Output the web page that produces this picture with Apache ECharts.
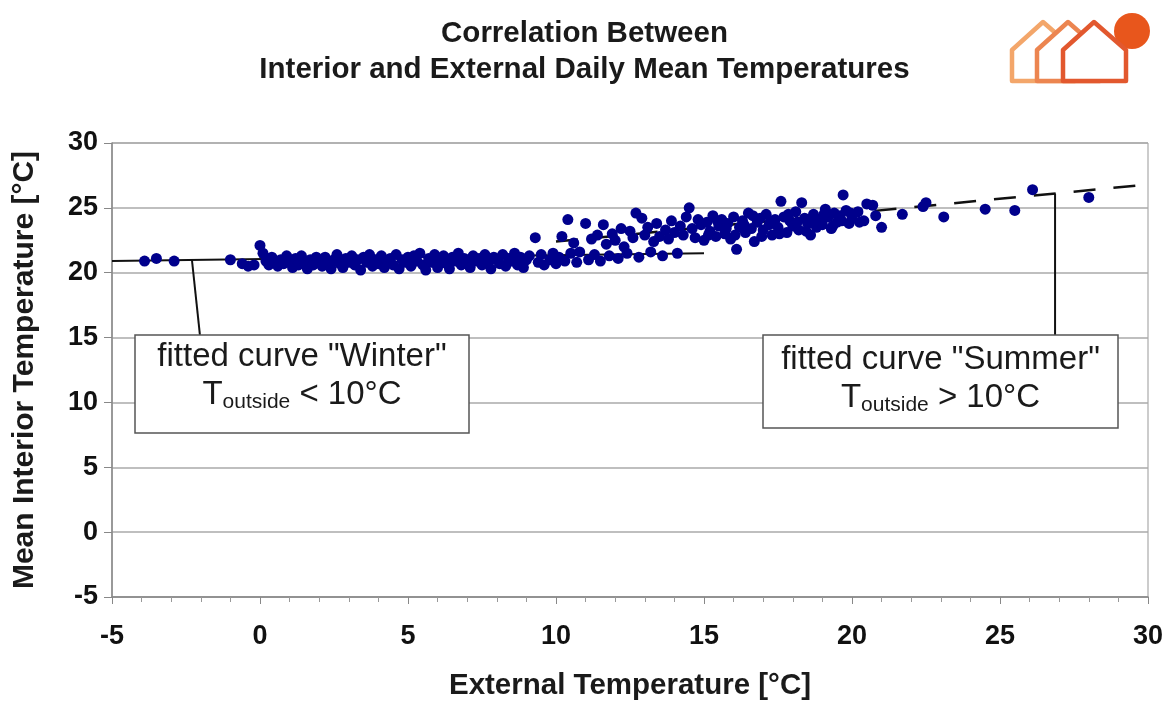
<!DOCTYPE html>
<html>
<head>
<meta charset="utf-8">
<script src="https://cdn.jsdelivr.net/npm/echarts@6/dist/echarts.min.js"></script>
<style>
html,body{margin:0;padding:0;background:#fff;}
#chart{width:1169px;height:706px;}
</style>
</head>
<body>
<div id="chart"></div>
<script>
// ---- data ----
const titleLines = ['Correlation Between', 'Interior and External Daily Mean Temperatures'];
const xAxisName = 'External Temperature [°C]';
const yAxisName = 'Mean Interior Temperature [°C]';

// daily means: [external °C, interior °C]
const winterPoints = [
  [-3.9,20.9],[-3.5,21.1],[-2.9,20.9],[-1.0,21.0],[-0.6,20.7],[-0.4,20.5],[-0.2,20.6],[0.0,22.1],
  [0.1,21.5],[0.2,20.9],[0.3,20.6],[0.4,21.2],[0.5,20.8],[0.6,20.5],[0.7,21.0],[0.8,20.7],[0.9,21.3],[1.0,20.9],
  [1.1,20.4],[1.2,21.1],[1.3,20.6],[1.4,21.3],[1.5,20.8],[1.6,20.3],[1.7,21.0],[1.8,20.6],[1.9,21.2],[2.0,20.9],
  [2.1,20.5],[2.2,21.2],[2.3,20.8],[2.4,20.3],[2.5,21.0],[2.6,21.4],[2.7,20.7],[2.8,20.4],[2.9,21.1],[3.0,20.8],
  [3.1,21.3],[3.2,20.6],[3.3,21.0],[3.4,20.2],[3.5,21.2],[3.6,20.8],[3.7,21.4],[3.8,20.5],[3.9,21.0],[4.0,20.7],
  [4.1,21.3],[4.2,20.4],[4.3,20.9],[4.4,21.1],[4.5,20.6],[4.6,21.4],[4.7,20.3],[4.8,21.0],[4.9,20.8],[5.0,21.2],
  [5.1,20.5],[5.2,21.3],[5.3,20.9],[5.4,21.5],[5.5,20.6],[5.6,20.2],[5.7,21.1],[5.8,20.8],[5.9,21.4],[6.0,20.4],
  [6.1,21.0],[6.2,21.3],[6.3,20.7],[6.4,20.3],[6.5,21.2],[6.6,20.9],[6.7,21.5],[6.8,20.6],[6.9,21.1],[7.0,20.8],
  [7.1,20.4],[7.2,21.3],[7.3,20.9],[7.4,21.1],[7.5,20.6],[7.6,21.4],[7.7,20.8],[7.8,20.3],[7.9,21.2],[8.0,21.0],
  [8.1,20.7],[8.2,21.4],[8.3,20.5],[8.4,21.1],[8.5,20.9],[8.6,21.5],[8.7,20.6],[8.8,21.2],[8.9,20.4],[9.0,21.0],
  [9.1,21.3],[9.3,22.7],[9.4,20.8],[9.5,21.4],[9.6,20.6],[9.8,21.0],[9.9,21.5],[10.0,20.7]
];
const summerPoints = [
  [10.1,21.2],[10.2,22.8],[10.3,20.9],[10.4,24.1],[10.5,21.5],[10.6,22.3],[10.7,20.8],[10.8,21.6],[11.0,23.8],
  [11.1,21.0],[11.2,22.6],[11.3,21.4],[11.4,22.9],[11.5,20.9],[11.6,23.7],[11.7,22.2],[11.8,21.3],[11.9,23.0],
  [12.0,22.5],[12.1,21.1],[12.2,23.4],[12.3,22.0],[12.4,21.5],[12.5,23.2],[12.6,22.7],[12.7,24.6],[12.8,21.2],
  [12.9,24.2],[13.0,22.9],[13.1,23.5],[13.2,21.6],[13.3,22.4],[13.4,23.8],[13.5,22.8],[13.6,21.3],[13.7,23.3],
  [13.8,22.6],[13.9,24.0],[14.0,23.1],[14.1,21.5],[14.2,23.6],[14.3,22.9],[14.4,24.3],[14.5,25.0],[14.6,23.4],
  [14.7,22.7],[14.8,24.1],[14.9,23.7],[15.0,22.5],
  [15.1,23.9],[15.2,23.2],[15.3,24.4],[15.4,22.8],[15.5,23.6],[15.6,24.1],[15.7,23.0],[15.8,23.8],[15.9,22.6],
  [16.0,24.3],[16.1,21.8],[16.2,23.5],[16.3,24.0],[16.4,23.1],[16.5,24.6],[16.6,23.4],[16.7,22.4],[16.8,23.9],
  [16.9,24.2],[17.0,23.3],[17.1,24.5],[17.2,23.7],[17.3,22.9],[17.4,24.1],[17.5,23.5],[17.6,25.5],[17.7,24.3],
  [17.8,23.1],[17.9,24.0],[18.0,23.6],[18.1,24.7],[18.2,23.3],[18.3,25.4],[18.4,24.2],[18.5,23.8],[18.6,22.9],
  [18.7,24.5],[18.8,23.5],[18.9,24.1],[19.0,23.7],[19.1,24.9],[19.2,24.3],[19.3,23.4],[19.4,24.6],[19.5,23.9],
  [19.6,24.4],[19.7,26.0],[19.8,24.8],[19.9,23.8],[20.0,24.2],[20.2,24.7],[20.4,24.0],[20.5,25.3],[20.7,25.2],
  [20.8,24.4],[21.0,23.5],
  [15.15,22.9],[15.45,24.0],[15.75,23.4],[16.05,22.9],[16.35,23.7],[16.65,24.4],[16.95,22.8],[17.25,24.0],
  [17.55,23.0],[17.85,24.5],[18.15,23.9],[18.45,23.2],[18.75,24.0],[19.05,24.5],[19.35,23.6],[19.65,24.0],
  [19.95,24.6],[20.25,23.9],
  [21.7,24.5],[22.4,25.1],[22.5,25.4],[23.1,24.3],[24.5,24.9],[25.5,24.8],[26.1,26.4],[28.0,25.8]
];
// fitted curves
const winterFit = [[-5,20.9],[15,21.5]];
const summerFit = [[10,22.4],[30,26.8]];
// callout leader lines
const winterLeader = [[-2.3,21.0],[-2.03,15.2]];
const summerLeader = [[26.86,26.1],[26.86,15.2]];
// callout texts
const winterLabel = ['fitted curve "Winter"', '<', '10°C'];
const summerLabel = ['fitted curve "Summer"', '>', '10°C'];

const FONT = '"Liberation Sans", Arial, sans-serif';
const chart = echarts.init(document.getElementById('chart'), null, {renderer:'canvas'});

function callout(x, y, w, h, y1, y2, lbl) {
  return {
    type: 'group', x: x, y: y, z: 10,
    children: [
      {type:'rect', shape:{x:0,y:0,width:w,height:h}, style:{fill:'#fff', stroke:'#555', lineWidth:1.5}, z: 10},
      {type:'text', x: w/2, y: y1, z: 11, style:{
        text: lbl[0], font: '33px ' + FONT, fill:'#1a1a1a', textAlign:'center', textVerticalAlign:'middle'
      }},
      {type:'text', x: w/2, y: y2, z: 11, style:{
        text: '{a|T}{s|outside}{a| ' + lbl[1] + ' ' + lbl[2] + '}',
        rich: {
          a: {fontSize: 33, fontFamily: FONT, fill:'#1a1a1a', lineHeight: 36, verticalAlign:'middle'},
          s: {fontSize: 21, fontFamily: FONT, fill:'#1a1a1a', lineHeight: 16, verticalAlign:'bottom'}
        },
        textAlign:'center', textVerticalAlign:'middle'
      }}
    ]
  };
}

function house(L, color) {
  return {type:'polygon', shape:{points:[[L,81],[L,50],[L+31,22],[L+63,50],[L+63,81]]},
    style:{fill:'#fff', stroke:color, lineWidth:4.5, lineJoin:'round'}, z: 5};
}

const option = {
  animation: false,
  backgroundColor: '#fff',
  title: {
    text: titleLines.join('\n'),
    left: 'center', top: 11,
    textStyle: {fontFamily: FONT, fontWeight:'bold', fontSize: 29.5, lineHeight: 36, color:'#1a1a1a'}
  },
  grid: {left:112, right:21, top:143, bottom:108, show:true, borderColor:'#999', borderWidth:1},
  xAxis: {
    type:'value', min:-5, max:30, interval:5,
    name: xAxisName, nameLocation:'middle', nameGap: 74,
    nameTextStyle: {fontFamily: FONT, fontWeight:'bold', fontSize: 29.5, color:'#1a1a1a'},
    axisLine: {show:true, onZero:false, lineStyle:{color:'#888', width:1.5}},
    axisTick: {show:true, length:7, lineStyle:{color:'#888'}},
    minorTick: {show:true, splitNumber:5, length:5, lineStyle:{color:'#999'}},
    splitLine: {show:false},
    axisLabel: {fontFamily: FONT, fontWeight:'bold', fontSize: 27, color:'#111', margin: 26}
  },
  yAxis: {
    type:'value', min:-5, max:30, interval:5,
    name: yAxisName, nameLocation:'middle', nameGap: 72,
    nameTextStyle: {fontFamily: FONT, fontWeight:'bold', fontSize: 30, color:'#1a1a1a'},
    axisLine: {show:true, onZero:false, lineStyle:{color:'#888', width:1.5}},
    axisTick: {show:true, length:8, lineStyle:{color:'#888'}},
    splitLine: {show:true, lineStyle:{color:'#aaa', width:1.5}},
    axisLabel: {fontFamily: FONT, fontWeight:'bold', fontSize: 27, color:'#111', margin: 14}
  },
  series: [
    {type:'line', data: winterFit, symbol:'none', lineStyle:{color:'#111', width:2}, z:3},
    {type:'line', data: summerFit, symbol:'none', lineStyle:{color:'#111', width:2.5, type:[22,18]}, z:3},
    {type:'line', data: winterLeader, symbol:'none', lineStyle:{color:'#111', width:2}, z:3},
    {type:'line', data: summerLeader, symbol:'none', lineStyle:{color:'#111', width:2}, z:3},
    {type:'scatter', data: winterPoints, symbol:'circle', symbolSize:11, itemStyle:{color:'#00008c', opacity:1}, z:4},
    {type:'scatter', data: summerPoints, symbol:'circle', symbolSize:11, itemStyle:{color:'#00008c', opacity:1}, z:4}
  ],
  graphic: [
    callout(135, 335, 334, 98, 22, 60, winterLabel),
    callout(763, 335, 355, 93, 25, 63, summerLabel),
    {type:'circle', shape:{cx:1132, cy:31, r:18}, style:{fill:'#e8561c'}, z:4},
    house(1012, '#f3a66a'),
    house(1037, '#ec8550'),
    house(1063, '#e2582e')
  ]
};
chart.setOption(option);
</script>
</body>
</html>
